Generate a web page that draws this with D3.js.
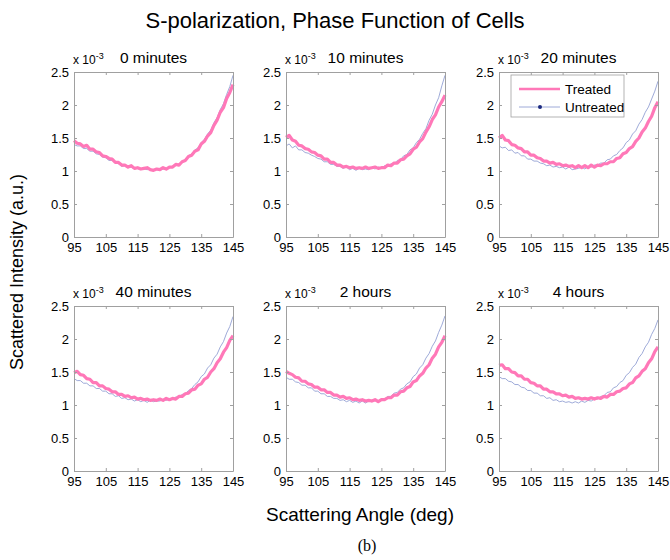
<!DOCTYPE html>
<html>
<head>
<meta charset="UTF-8">
<title>S-polarization, Phase Function of Cells</title>
<style>
  body { margin: 0; background: #fff; }
  text { font-family: "Liberation Sans", Arial, sans-serif; fill: #000; }
  .frame line, .frame path { stroke: #a0a0a0; }
</style>
</head>
<body>
<div id="chart"></div>
<script src="https://d3js.org/d3.v7.min.js"></script>
<script>
// scattering angle, 95..145 deg, one point per degree
var angles = d3.range(95, 146);

var panelTitles = ["0 minutes", "10 minutes", "20 minutes", "40 minutes", "2 hours", "4 hours"];
var xTicks = [95, 105, 115, 125, 135, 145];
var yTicks = [0, 0.5, 1, 1.5, 2, 2.5];

// intensity values in units of 1e-3
var treated0 = [1.46,1.42,1.41,1.37,1.39,1.33, 1.33,1.29,1.28,1.23,1.22, 1.19,1.18,1.13,1.13,1.09,
  1.09,1.06,1.08,1.04,1.05, 1.03,1.04,1.05,1.02,1.01, 1.03,1.02,1.05,1.03,1.06, 1.06,1.10,1.09,1.14,1.16,
  1.22,1.24,1.30,1.32,1.41, 1.45,1.53,1.58,1.69,1.77, 1.89,1.96,2.10,2.19,2.31];
var untreated0 = [1.40,1.38,1.38,1.34,1.34,1.30, 1.30,1.26,1.25,1.21,1.20, 1.16,1.16,1.12,1.11,1.07,
  1.08,1.05,1.06,1.03,1.04, 1.02,1.03,1.02,1.03,1.01, 1.02,1.01,1.03,1.03,1.05, 1.06,1.09,1.10,1.15,1.17,
  1.23,1.26,1.32,1.35,1.43, 1.48,1.56,1.62,1.73,1.81, 1.93,2.02,2.16,2.28,2.45];
var treated10 = [1.51,1.54,1.47,1.45,1.39,1.38, 1.34,1.33,1.29,1.28,1.24, 1.23,1.18,1.18,1.13,1.13,
  1.09,1.09,1.06,1.07,1.05, 1.06,1.04,1.05,1.04,1.06, 1.04,1.05,1.06,1.04,1.05, 1.05,1.09,1.08,1.12,1.12,
  1.17,1.18,1.23,1.26,1.33, 1.36,1.44,1.49,1.59,1.67, 1.78,1.85,1.97,2.05,2.15];
var untreated10 = [1.38,1.41,1.35,1.38,1.32,1.32, 1.28,1.27,1.24,1.22,1.19, 1.18,1.14,1.14,1.10,1.10,
  1.07,1.07,1.04,1.06,1.02, 1.04,1.01,1.04,1.02,1.03, 1.02,1.05,1.03,1.06,1.04, 1.08,1.07,1.11,1.11,1.16,
  1.17,1.23,1.25,1.32,1.35, 1.43,1.48,1.57,1.64,1.77, 1.86,2.00,2.11,2.29,2.45];
var treated20 = [1.50,1.54,1.47,1.46,1.40,1.39, 1.35,1.34,1.29,1.29,1.24, 1.24,1.20,1.19,1.15,1.15,
  1.12,1.13,1.10,1.11,1.08, 1.09,1.07,1.08,1.05,1.08, 1.05,1.08,1.05,1.09,1.06, 1.09,1.08,1.11,1.11,1.14,
  1.14,1.19,1.20,1.26,1.28, 1.34,1.37,1.45,1.50,1.59, 1.65,1.75,1.83,1.96,2.05];
var untreated20 = [1.38,1.35,1.36,1.31,1.32,1.27, 1.28,1.23,1.23,1.18,1.18, 1.15,1.15,1.12,1.11,1.08,
  1.09,1.06,1.07,1.05,1.06, 1.03,1.06,1.02,1.03,1.04, 1.06,1.03,1.07,1.06,1.09, 1.09,1.12,1.12,1.17,1.18,
  1.23,1.25,1.31,1.35,1.43, 1.47,1.56,1.61,1.71,1.78, 1.89,1.97,2.09,2.21,2.36];
var treated40 = [1.49,1.51,1.46,1.45,1.40,1.39, 1.34,1.34,1.29,1.29,1.25, 1.24,1.20,1.20,1.16,1.16,
  1.13,1.14,1.11,1.12,1.09, 1.10,1.08,1.09,1.07,1.08, 1.07,1.09,1.07,1.10,1.08, 1.10,1.09,1.13,1.13,1.17,
  1.18,1.23,1.24,1.30,1.32, 1.39,1.42,1.50,1.55,1.64, 1.70,1.80,1.87,1.98,2.05];
var untreated40 = [1.40,1.37,1.37,1.33,1.33,1.29, 1.29,1.25,1.25,1.21,1.21, 1.17,1.17,1.13,1.14,1.10,
  1.11,1.08,1.09,1.06,1.08, 1.05,1.07,1.04,1.07,1.05, 1.06,1.06,1.08,1.07,1.09, 1.09,1.12,1.12,1.16,1.17,
  1.22,1.25,1.31,1.35,1.43, 1.47,1.56,1.61,1.71,1.77, 1.88,1.96,2.09,2.19,2.34];
var treated2h = [1.51,1.48,1.46,1.42,1.41,1.36, 1.36,1.32,1.31,1.27,1.27, 1.23,1.23,1.19,1.19,1.15,
  1.15,1.12,1.13,1.10,1.11, 1.08,1.09,1.07,1.08,1.06, 1.07,1.06,1.08,1.05,1.08, 1.08,1.11,1.11,1.15,1.15,
  1.20,1.21,1.26,1.28,1.35, 1.37,1.44,1.48,1.56,1.61, 1.71,1.77,1.88,1.95,2.05];
var untreated2h = [1.42,1.39,1.39,1.35,1.34,1.30, 1.30,1.26,1.26,1.21,1.21, 1.17,1.17,1.13,1.13,1.10,
  1.10,1.07,1.08,1.05,1.07, 1.04,1.06,1.03,1.06,1.03, 1.06,1.05,1.07,1.06,1.09, 1.09,1.13,1.13,1.18,1.19,
  1.24,1.26,1.32,1.35,1.43, 1.47,1.56,1.61,1.71,1.78, 1.89,1.97,2.10,2.21,2.35];
var treated4h = [1.60,1.61,1.55,1.55,1.50,1.49, 1.44,1.44,1.39,1.39,1.34, 1.33,1.29,1.29,1.24,1.24,
  1.20,1.20,1.17,1.17,1.14, 1.15,1.12,1.13,1.10,1.11, 1.09,1.10,1.09,1.11,1.09, 1.11,1.10,1.13,1.12,1.16,
  1.16,1.20,1.21,1.25,1.26, 1.32,1.34,1.41,1.44,1.51, 1.55,1.64,1.70,1.81,1.88];
var untreated4h = [1.43,1.40,1.40,1.36,1.35,1.31, 1.31,1.27,1.26,1.22,1.22, 1.18,1.18,1.14,1.14,1.10,
  1.11,1.07,1.08,1.05,1.06, 1.04,1.05,1.03,1.05,1.03, 1.06,1.04,1.07,1.06,1.09, 1.09,1.13,1.14,1.19,1.20,
  1.26,1.28,1.34,1.37,1.45, 1.49,1.57,1.62,1.72,1.78, 1.88,1.95,2.07,2.16,2.29];

var treatedSeries = [treated0, treated10, treated20, treated40, treated2h, treated4h];
var untreatedSeries = [untreated0, untreated10, untreated20, untreated40, untreated2h, untreated4h];

var W = 670, H = 560;
var pw = 159, ph = 165;
var colX = [74, 286, 499], rowY = [72, 306];
var pink = "#ff78b8", blue = "#93a0d4", navy = "#1c2a80";

var svg = d3.select("#chart").append("svg")
  .attr("width", W).attr("height", H);
svg.append("rect").attr("width", W).attr("height", H).attr("fill", "#fff");

var x = d3.scaleLinear().domain([95, 145]).range([0, pw]);
var y = d3.scaleLinear().domain([0, 2.5]).range([ph, 0]);

var line = d3.line()
  .x(function(d, i){ return x(angles[i]); })
  .y(function(d){ return y(d); });

panelTitles.forEach(function(title, k){
  var g = svg.append("g")
    .attr("transform", "translate(" + colX[k % 3] + "," + rowY[Math.floor(k / 3)] + ")");

  g.append("path").datum(untreatedSeries[k])
    .attr("fill", "none").attr("stroke", blue).attr("stroke-width", 0.9)
    .attr("d", line);
  g.append("path").datum(treatedSeries[k])
    .attr("fill", "none").attr("stroke", pink).attr("stroke-width", 3.2)
    .attr("stroke-linejoin", "round")
    .attr("d", line);

  // box with inward ticks, matlab style
  g.append("g").attr("class", "frame").attr("transform", "translate(0," + ph + ")")
    .call(d3.axisBottom(x).tickValues(xTicks).tickSize(-3).tickPadding(6).tickSizeOuter(0));
  g.append("g").attr("class", "frame")
    .call(d3.axisTop(x).tickValues(xTicks).tickSize(-3).tickFormat("").tickSizeOuter(0));
  g.append("g").attr("class", "frame")
    .call(d3.axisLeft(y).tickValues(yTicks).tickSize(-3).tickPadding(5).tickSizeOuter(0)
      .tickFormat(function(d){ return String(d); }));
  g.append("g").attr("class", "frame").attr("transform", "translate(" + pw + ",0)")
    .call(d3.axisRight(y).tickValues(yTicks).tickSize(-3).tickFormat("").tickSizeOuter(0));
  svg.selectAll(".frame text")
    .attr("font-size", 13).attr("font-family", "Liberation Sans, Arial, sans-serif");

  var ex = g.append("text").attr("x", -1).attr("y", -8).attr("font-size", 12);
  ex.append("tspan").text("x 10");
  ex.append("tspan").attr("dy", -5).attr("font-size", 9).text("-3");

  g.append("text").attr("x", pw / 2).attr("y", -9)
    .attr("text-anchor", "middle").attr("font-size", 15.5).text(title);

  if (k === 2) {
    var lg = g.append("g").attr("transform", "translate(12,3)");
    lg.append("rect").attr("width", 113).attr("height", 42)
      .attr("fill", "#fff").attr("stroke", "#a0a0a0").attr("stroke-width", 0.8);
    lg.append("line").attr("x1", 8).attr("x2", 49).attr("y1", 14).attr("y2", 14)
      .attr("stroke", pink).attr("stroke-width", 2.5);
    lg.append("text").attr("x", 54).attr("y", 19).attr("font-size", 13.5).text("Treated");
    lg.append("line").attr("x1", 8).attr("x2", 49).attr("y1", 32).attr("y2", 32)
      .attr("stroke", blue).attr("stroke-width", 0.9);
    lg.append("circle").attr("cx", 29).attr("cy", 32).attr("r", 2).attr("fill", navy);
    lg.append("text").attr("x", 54).attr("y", 37).attr("font-size", 13.5).text("Untreated");
  }
});

svg.append("text").attr("x", 335).attr("y", 28).attr("text-anchor", "middle")
  .attr("font-size", 22).text("S-polarization, Phase Function of Cells");

svg.append("text").attr("transform", "translate(23,272) rotate(-90)")
  .attr("text-anchor", "middle").attr("font-size", 18).text("Scattered Intensity (a.u.)");

svg.append("text").attr("x", 360).attr("y", 521).attr("text-anchor", "middle")
  .attr("font-size", 19).text("Scattering Angle (deg)");

svg.append("text").attr("x", 367).attr("y", 551).attr("text-anchor", "middle")
  .style("font-family", "Liberation Serif, serif").attr("font-size", 16).text("(b)");
</script>
</body>
</html>
